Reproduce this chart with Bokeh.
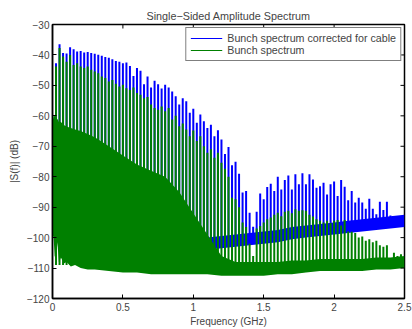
import math
from bokeh.plotting import figure
from bokeh.models import Range1d, FixedTicker, Legend, LegendItem, ColumnDataSource
from bokeh.embed import file_html
from bokeh.resources import INLINE

# ---------------- data ----------------
harmonic_ghz = [
    0.025, 0.05, 0.075, 0.1, 0.125, 0.15, 0.175, 0.2, 0.225, 0.25,
    0.275, 0.3, 0.325, 0.35, 0.375, 0.4, 0.425, 0.45, 0.475, 0.5,
    0.525, 0.55, 0.575, 0.6, 0.625, 0.65, 0.675, 0.7, 0.725, 0.75,
    0.775, 0.8, 0.825, 0.85, 0.875, 0.9, 0.925, 0.95, 0.975, 1.0,
    1.025, 1.05, 1.075, 1.1, 1.125, 1.15, 1.175, 1.2, 1.225, 1.25,
    1.275, 1.3, 1.325, 1.35, 1.375, 1.4, 1.425, 1.45, 1.475, 1.5,
    1.525, 1.55, 1.575, 1.6, 1.625, 1.65, 1.675, 1.7, 1.725, 1.75,
    1.775, 1.8, 1.825, 1.85, 1.875, 1.9, 1.925, 1.95, 1.975, 2.0,
    2.025, 2.05, 2.075, 2.1, 2.125, 2.15, 2.175, 2.2, 2.225, 2.25,
    2.275, 2.3, 2.325, 2.35, 2.375, 2.4, 2.425, 2.45, 2.475,
]

# peak level of each harmonic, corrected spectrum (dB)
blue_peak_db = [
    -42.7, -36.5, -39.4, -39.5, -37.5, -38.1, -38.9, -38.7, -39.2, -39.0,
    -39.4, -39.6, -39.9, -40.3, -40.7, -40.9, -41.4, -42.0, -42.2, -42.7,
    -42.5, -43.6, -46.9, -44.3, -45.2, -49.6, -47.1, -50.7, -48.5, -49.6,
    -51.0, -49.8, -50.7, -52.0, -53.6, -56.3, -54.2, -55.2, -59.0, -57.7,
    -62.3, -59.6, -61.8, -64.0, -62.9, -66.7, -64.7, -67.8, -72.5, -70.2,
    -76.2, -75.1, -79.0, -85.2, -84.7, -91.8, -96.4, -91.5, -85.5, -87.4,
    -83.4, -82.3, -84.7, -80.0, -84.2, -81.1, -79.6, -84.2, -79.2, -82.5,
    -78.9, -82.5, -79.2, -80.9, -83.6, -83.1, -82.0, -85.8, -82.5, -81.6,
    -86.3, -81.1, -83.3, -87.7, -84.7, -88.5, -86.9, -88.5, -90.5, -87.2,
    -90.5, -92.3, -88.2, -90.9, -88.2, -92.7, -93.0, -93.5, -93.0,
]
# lower end of each corrected-spectrum line (its noise floor, dB)
blue_floor_db = [
    -104, -104, -104, -104, -104, -104, -104, -104, -104, -104,
    -104, -104, -104, -104, -104, -104, -104, -104, -104, -104,
    -104, -104, -104, -104, -104, -104, -104, -104, -104, -104,
    -104, -104, -104, -104, -104, -104, -104, -104, -104, -104,
    -104, -104, -103.5, -103.5, -103.5, -103, -103, -103, -103, -102.5,
    -102.5, -102.5, -102.5, -102, -102, -102, -102, -101.5, -101.5, -101.5,
    -101, -101, -100.5, -100.5, -100.5, -100, -100, -100, -99.5, -99.5,
    -99.5, -99.5, -99, -99, -99, -99, -98.5, -98.5, -98, -98,
    -98, -97.5, -97.5, -97.5, -97.5, -97, -97, -97, -97, -96.5,
    -96.5, -96.5, -96.5, -96, -96, -96, -95.5, -95.5, -95.5,
]
# peak level of each harmonic, raw bunch spectrum (dB)
green_peak_db = [
    -43.8, -37.7, -40.5, -42.2, -40.0, -43.3, -42.7, -43.8, -44.3, -43.8,
    -44.9, -45.4, -46.0, -47.1, -47.6, -48.7, -48.2, -49.5, -50.4, -49.8,
    -50.9, -51.5, -50.7, -52.5, -53.1, -54.2, -53.8, -56.3, -57.4, -58.0,
    -56.9, -58.5, -57.4, -61.2, -60.0, -63.4, -62.5, -64.5, -66.7, -64.8,
    -68.3, -66.7, -70.0, -72.1, -71.0, -73.8, -72.1, -75.4, -77.4, -80.0,
    -86.9, -87.4, -90.0, -95.0, -96.5, -102.0, -106.0, -97.0, -96.2, -95.0,
    -94.0, -93.4, -92.5, -91.8, -93.0, -91.5, -91.2, -92.0, -90.7, -91.2,
    -91.0, -91.2, -92.5, -93.1, -94.0, -94.5, -95.0, -94.5, -95.2, -94.5,
    -94.2, -96.0, -94.2, -98.0, -98.1, -98.5, -100.0, -99.6, -101.0, -100.5,
    -101.5, -101.0, -102.5, -103.0, -102.5, -106.7, -105.0, -106.0, -105.5,
]
green_floor_db = -109

# dense noise band of the corrected spectrum
blue_band_ghz = [1.0, 1.1, 1.2, 1.3, 1.4, 1.5, 1.6, 1.7, 1.8, 1.9, 2.0, 2.1, 2.2, 2.3, 2.4, 2.5]
blue_band_lo = [-104.5, -104, -103.5, -103, -102.5, -102, -101.5, -100.5, -100, -99.5, -99, -98.5, -98, -97.5, -97, -96.5]
blue_band_hi = [-100.5, -100, -99.5, -99, -98.5, -98, -97.5, -96.5, -96, -95.5, -95, -94.5, -94, -93.5, -93, -92.5]

# dense noise band of the raw spectrum
green_band_ghz = [0.0, 0.008, 0.015, 0.025, 0.035, 0.045, 0.06, 0.08, 0.1, 0.13,
                  0.16, 0.2, 0.25, 0.3, 0.4, 0.5, 0.6, 0.7, 0.8, 0.9,
                  1.0, 1.1, 1.2, 1.3, 1.4, 1.5, 1.6, 1.7, 1.8, 1.9,
                  2.0, 2.1, 2.2, 2.3, 2.4, 2.5]
green_band_lo = [-99, -100, -106, -107, -101.5, -108, -106.5, -108.5, -108, -109.5,
                 -109, -110, -110.5, -110.5, -111, -111.5, -111.5, -112, -112, -112,
                 -112, -112, -112.5, -112.5, -112.5, -112.5, -112, -112, -111.5, -111,
                 -111, -111, -111, -110.5, -110.5, -110]
green_band_hi = [-62, -60, -60, -61, -61, -62, -62, -63, -63.5, -64,
                 -64.5, -65, -66, -67, -70, -73, -76, -78, -80, -85,
                 -92, -99, -106, -108, -108, -108, -108, -107.5, -107.5, -107,
                 -107, -107, -107, -106.5, -106.5, -106]

x_tick_values = [0, 0.5, 1, 1.5, 2, 2.5]
x_tick_labels = ["0", "0.5", "1", "1.5", "2", "2.5"]
y_tick_values = [-120, -110, -100, -90, -80, -70, -60, -50, -40, -30]
y_tick_labels = ["\u2212120", "\u2212110", "\u2212100", "\u221290", "\u221280",
                 "\u221270", "\u221260", "\u221250", "\u221240", "\u221230"]

series_labels = ["Bunch spectrum corrected for cable", "Bunch spectrum"]

# ---------------- figure ----------------
FONT = "Liberation Sans"
BLUE = "#0000ff"
GREEN = "#008000"

p = figure(width=412, height=329, output_backend="svg", toolbar_location=None,
           x_range=Range1d(x_tick_values[0], x_tick_values[-1]),
           y_range=Range1d(y_tick_values[0], y_tick_values[-1]),
           min_border_left=52, min_border_right=8, min_border_top=24, min_border_bottom=29,
           title="Single\u2212Sided Amplitude Spectrum")
p.title.align = "center"
p.title.text_font = FONT
p.title.text_font_size = "10.8px"
p.title.text_font_style = "normal"
p.title.standoff = 5
p.grid.visible = False
p.outline_line_color = "black"
p.outline_line_width = 1.5
p.background_fill_color = "white"
p.border_fill_color = "white"

p.varea(x=blue_band_ghz, y1=blue_band_lo, y2=blue_band_hi, fill_color=BLUE)
blue_src = ColumnDataSource(dict(x=harmonic_ghz, y0=blue_floor_db, y1=blue_peak_db))
p.segment(x0="x", y0="y0", x1="x", y1="y1", source=blue_src,
          line_color=BLUE, line_width=2)

p.varea(x=green_band_ghz, y1=green_band_lo, y2=green_band_hi, fill_color=GREEN)
green_src = ColumnDataSource(dict(x=harmonic_ghz, y1=green_peak_db))
p.segment(x0="x", y0=green_floor_db, x1="x", y1="y1", source=green_src,
          line_color=GREEN, line_width=2)

# thin-line renderers used only as legend keys (a single point draws no line)
blue_key = p.line(x=harmonic_ghz[:1], y=blue_peak_db[:1], line_color=BLUE, line_width=1)
green_key = p.line(x=harmonic_ghz[:1], y=green_peak_db[:1], line_color=GREEN, line_width=1)

# inward ticks on the top and right edges of the box
p.scatter(x=x_tick_values, y=y_tick_values[-1], marker="dash", size=8,
          angle=math.pi / 2, line_color="black", line_width=1)
p.scatter(x=x_tick_values[-1], y=y_tick_values, marker="dash", size=8,
          line_color="black", line_width=1)

legend = Legend(items=[LegendItem(label=series_labels[0], renderers=[blue_key]),
                       LegendItem(label=series_labels[1], renderers=[green_key])],
                location="top_right")
legend.border_line_color = "black"
legend.border_line_width = 1.5
legend.background_fill_color = "white"
legend.background_fill_alpha = 1
legend.label_text_font = FONT
legend.label_text_font_size = "10.7px"
legend.glyph_width = 32
legend.glyph_height = 12
legend.label_height = 12
legend.spacing = 0
legend.padding = 4
legend.margin = 3
legend.label_standoff = 5
p.add_layout(legend)

def style_axis(ax, ticks, labels):
    ax.ticker = FixedTicker(ticks=ticks)
    ax.major_label_overrides = dict(zip(ticks, labels))
    ax.major_tick_in = 4
    ax.major_tick_out = 0
    ax.minor_tick_line_color = None
    ax.axis_line_color = "black"
    ax.axis_line_width = 1.5
    ax.major_tick_line_color = "black"
    ax.major_label_text_font = FONT
    ax.major_label_text_font_size = "10px"
    ax.axis_label_text_font = FONT
    ax.axis_label_text_font_size = "10px"
    ax.axis_label_text_font_style = "normal"

style_axis(p.xaxis[0], x_tick_values, x_tick_labels)
style_axis(p.yaxis[0], y_tick_values, y_tick_labels)
p.xaxis.major_label_standoff = 4
p.xaxis.axis_label_standoff = 2
p.yaxis.major_label_standoff = 3
p.yaxis.axis_label_standoff = 4
p.xaxis.axis_label = "Frequency (GHz)"
p.yaxis.axis_label = "|S(f)| (dB)"

open("out.html", "w").write(file_html(p, INLINE))
